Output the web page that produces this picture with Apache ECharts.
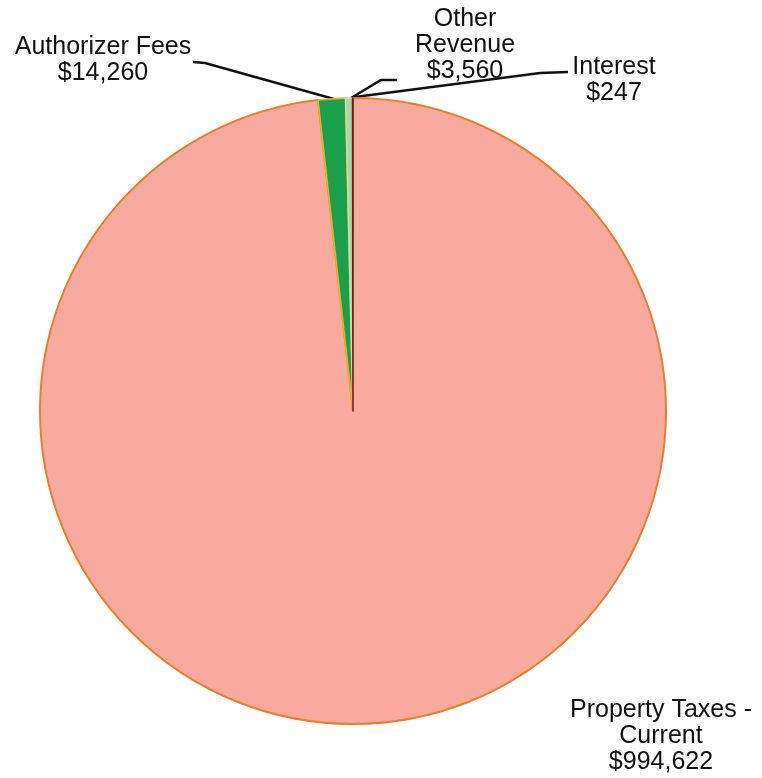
<!DOCTYPE html>
<html>
<head>
<meta charset="utf-8">
<script src="https://cdn.jsdelivr.net/npm/echarts@6/dist/echarts.min.js"></script>
<style>
  html, body { margin: 0; padding: 0; background: #ffffff; }
  #chart { width: 762px; height: 778px; }
</style>
</head>
<body>
<div id="chart"></div>
<script>
// Revenue sources
const categories = ['Property Taxes -\nCurrent', 'Authorizer Fees', 'Other\nRevenue', 'Interest'];
const values = [994622, 14260, 3560, 247];

const fills = ['#F9AA9F', '#19A04B', '#A9D7A1', '#C9B7A8'];
const borders = ['#E8802A', '#F2AE22', '#C9DFA8', '#7A1818'];

// Label anchor (block centre) and leader-line points for each slice
const labelSpots = [
  { x: 661, y: 736 },
  { x: 103, y: 60, line: [[334, 99], [205, 63], [193, 62]] },
  { x: 465, y: 45, line: [[351, 98], [381, 80], [397, 80]] },
  { x: 614, y: 80, line: [[355, 97], [540, 73], [568, 72]] }
];

const fmt = v => '$' + v.toLocaleString('en-US');

const chart = echarts.init(document.getElementById('chart'), null, { renderer: 'canvas' });
chart.setOption({
  backgroundColor: '#ffffff',
  animation: false,
  series: [{
    type: 'pie',
    center: [353, 411],
    radius: 313,
    startAngle: 90,
    clockwise: true,
    avoidLabelOverlap: false,
    data: categories.map((name, i) => ({
      name: name,
      value: values[i],
      itemStyle: { color: fills[i], borderColor: borders[i], borderWidth: i === 0 ? 2 : 1.6 },
      labelLine: { show: i !== 0 }
    })),
    label: {
      show: true,
      position: 'outside',
      formatter: p => p.name + '\n' + fmt(p.value),
      fontFamily: 'Liberation Sans, Arial, sans-serif',
      fontSize: 25,
      lineHeight: 26,
      color: '#111111',
      align: 'center'
    },
    labelLine: {
      show: true,
      lineStyle: { color: '#111111', width: 2.5 }
    },
    labelLayout: params => {
      const s = labelSpots[params.dataIndex];
      const out = { x: s.x, y: s.y, align: 'center', verticalAlign: 'middle' };
      if (s.line) out.labelLinePoints = s.line;
      return out;
    }
  }]
});
</script>
</body>
</html>
